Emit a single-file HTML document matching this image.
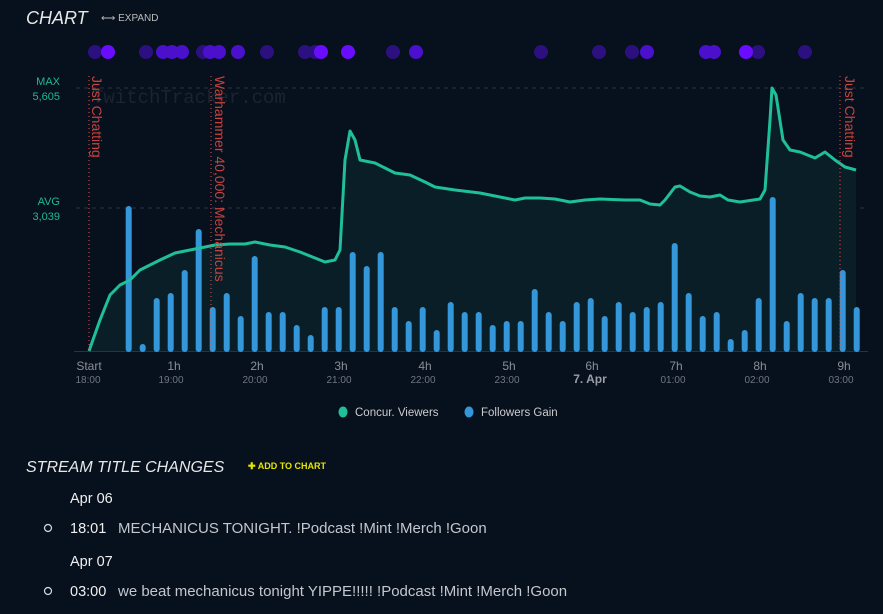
<!DOCTYPE html>
<html><head><meta charset="utf-8"><style>
html,body{margin:0;padding:0;background:#07101d;width:883px;height:614px;overflow:hidden;font-family:"Liberation Sans",sans-serif}
svg{position:absolute;left:0;top:0}
</style></head><body>
<svg width="883" height="614" viewBox="0 0 883 614">
<rect width="883" height="614" fill="#07101d"/>
<text x="26" y="24" font-size="18" font-style="italic" fill="#e8e8e8">CHART</text>
<text x="101" y="21" font-size="10" fill="#bbb">⟷ EXPAND</text>
<text x="92" y="103" font-family="Liberation Mono,monospace" font-size="19" fill="#1a2430">TwitchTracker.com</text>
<g fill="#2d1080">
<circle cx="95" cy="52" r="7"/><circle cx="146" cy="52" r="7"/><circle cx="203" cy="52" r="7"/><circle cx="267" cy="52" r="7"/><circle cx="305" cy="52" r="7"/><circle cx="315" cy="52" r="7"/><circle cx="393" cy="52" r="7"/><circle cx="541" cy="52" r="7"/><circle cx="599" cy="52" r="7"/><circle cx="632" cy="52" r="7"/><circle cx="758" cy="52" r="7"/><circle cx="805" cy="52" r="7"/>
</g>
<g fill="#4a10cc">
<circle cx="163" cy="52" r="7"/><circle cx="172" cy="52" r="7"/><circle cx="182" cy="52" r="7"/><circle cx="210" cy="52" r="7"/><circle cx="219" cy="52" r="7"/><circle cx="238" cy="52" r="7"/><circle cx="416" cy="52" r="7"/><circle cx="647" cy="52" r="7"/><circle cx="706" cy="52" r="7"/><circle cx="714" cy="52" r="7"/>
</g>
<g fill="#6a0cff">
<circle cx="108" cy="52" r="7"/><circle cx="321" cy="52" r="7"/><circle cx="348" cy="52" r="7"/><circle cx="746" cy="52" r="7"/>
</g>
<line x1="76" y1="88" x2="868" y2="88" stroke="#2a3440" stroke-dasharray="4,4"/>
<line x1="76" y1="208" x2="868" y2="208" stroke="#2a3440" stroke-dasharray="4,4"/>
<line x1="74" y1="351.5" x2="868" y2="351.5" stroke="#2a3440"/>
<text x="60" y="85" font-size="11" fill="#1fb89a" text-anchor="end">MAX</text>
<text x="60" y="100" font-size="11" fill="#1fb89a" text-anchor="end">5,605</text>
<text x="60" y="205" font-size="11" fill="#1fb89a" text-anchor="end">AVG</text>
<text x="60" y="220" font-size="11" fill="#1fb89a" text-anchor="end">3,039</text>
<path d="M89,351 L100,320 L110,295 L120,285 L130,280 L140,270 L150,265 L160,260 L175,253 L190,250 L200,248 L215,245 L230,244 L245,244 L255,242 L270,245 L285,247 L300,252 L315,258 L325,262 L335,260 L340,250 L345,160 L350,131 L355,140 L360,160 L375,163 L385,168 L395,173 L410,175 L425,182 L435,187 L455,190 L480,193 L500,197 L515,200 L525,198 L540,198 L555,199 L570,202 L585,200 L600,199 L625,200 L640,200 L650,204 L660,205 L665,200 L675,187 L680,186 L690,192 L700,196 L710,197 L720,195 L728,200 L740,202 L760,199 L765,190 L770,120 L772,88 L776,95 L783,140 L790,150 L800,152 L815,158 L825,152 L835,160 L845,167 L856,170 L856,351 Z" fill="#0a1e27"/>
<g fill="#3497da">
<rect x="125.7" y="206" width="6" height="146" rx="3"/><rect x="139.7" y="344" width="6" height="8" rx="3"/><rect x="153.7" y="298" width="6" height="54" rx="3"/><rect x="167.7" y="293" width="6" height="59" rx="3"/><rect x="181.7" y="270" width="6" height="82" rx="3"/><rect x="195.7" y="229" width="6" height="123" rx="3"/><rect x="209.7" y="307" width="6" height="45" rx="3"/><rect x="223.7" y="293" width="6" height="59" rx="3"/><rect x="237.7" y="316" width="6" height="36" rx="3"/><rect x="251.7" y="256" width="6" height="96" rx="3"/><rect x="265.7" y="312" width="6" height="40" rx="3"/><rect x="279.7" y="312" width="6" height="40" rx="3"/><rect x="293.7" y="325" width="6" height="27" rx="3"/><rect x="307.7" y="335" width="6" height="17" rx="3"/><rect x="321.7" y="307" width="6" height="45" rx="3"/><rect x="335.7" y="307" width="6" height="45" rx="3"/><rect x="349.7" y="252" width="6" height="100" rx="3"/><rect x="363.7" y="266" width="6" height="86" rx="3"/><rect x="377.7" y="252" width="6" height="100" rx="3"/><rect x="391.7" y="307" width="6" height="45" rx="3"/><rect x="405.7" y="321" width="6" height="31" rx="3"/><rect x="419.7" y="307" width="6" height="45" rx="3"/><rect x="433.7" y="330" width="6" height="22" rx="3"/><rect x="447.7" y="302" width="6" height="50" rx="3"/><rect x="461.7" y="312" width="6" height="40" rx="3"/><rect x="475.7" y="312" width="6" height="40" rx="3"/><rect x="489.7" y="325" width="6" height="27" rx="3"/><rect x="503.7" y="321" width="6" height="31" rx="3"/><rect x="517.7" y="321" width="6" height="31" rx="3"/><rect x="531.7" y="289" width="6" height="63" rx="3"/><rect x="545.7" y="312" width="6" height="40" rx="3"/><rect x="559.7" y="321" width="6" height="31" rx="3"/><rect x="573.7" y="302" width="6" height="50" rx="3"/><rect x="587.7" y="298" width="6" height="54" rx="3"/><rect x="601.7" y="316" width="6" height="36" rx="3"/><rect x="615.7" y="302" width="6" height="50" rx="3"/><rect x="629.7" y="312" width="6" height="40" rx="3"/><rect x="643.7" y="307" width="6" height="45" rx="3"/><rect x="657.7" y="302" width="6" height="50" rx="3"/><rect x="671.7" y="243" width="6" height="109" rx="3"/><rect x="685.7" y="293" width="6" height="59" rx="3"/><rect x="699.7" y="316" width="6" height="36" rx="3"/><rect x="713.7" y="312" width="6" height="40" rx="3"/><rect x="727.7" y="339" width="6" height="13" rx="3"/><rect x="741.7" y="330" width="6" height="22" rx="3"/><rect x="755.7" y="298" width="6" height="54" rx="3"/><rect x="769.7" y="197" width="6" height="155" rx="3"/><rect x="783.7" y="321" width="6" height="31" rx="3"/><rect x="797.7" y="293" width="6" height="59" rx="3"/><rect x="811.7" y="298" width="6" height="54" rx="3"/><rect x="825.7" y="298" width="6" height="54" rx="3"/><rect x="839.7" y="270" width="6" height="82" rx="3"/><rect x="853.7" y="307" width="6" height="45" rx="3"/>
</g>
<path d="M89,351 L100,320 L110,295 L120,285 L130,280 L140,270 L150,265 L160,260 L175,253 L190,250 L200,248 L215,245 L230,244 L245,244 L255,242 L270,245 L285,247 L300,252 L315,258 L325,262 L335,260 L340,250 L345,160 L350,131 L355,140 L360,160 L375,163 L385,168 L395,173 L410,175 L425,182 L435,187 L455,190 L480,193 L500,197 L515,200 L525,198 L540,198 L555,199 L570,202 L585,200 L600,199 L625,200 L640,200 L650,204 L660,205 L665,200 L675,187 L680,186 L690,192 L700,196 L710,197 L720,195 L728,200 L740,202 L760,199 L765,190 L770,120 L772,88 L776,95 L783,140 L790,150 L800,152 L815,158 L825,152 L835,160 L845,167 L856,170" fill="none" stroke="#1fbf9c" stroke-width="3" stroke-linejoin="round"/>
<g stroke="#d9534f" stroke-dasharray="1,3" stroke-width="1">
<line x1="89" y1="76" x2="89" y2="351"/><line x1="211" y1="76" x2="211" y2="351"/><line x1="840" y1="76" x2="840" y2="351"/>
</g>
<g font-size="14" fill="#c9423c">
<text transform="translate(92,76) rotate(90)">Just Chatting</text>
<text transform="translate(215,76) rotate(90)">Warhammer 40,000: Mechanicus</text>
<text transform="translate(845,76) rotate(90)">Just Chatting</text>
</g>
<g font-size="12" fill="#8a8f96" text-anchor="middle">
<text x="89" y="370">Start</text><text x="174" y="370">1h</text><text x="257" y="370">2h</text><text x="341" y="370">3h</text><text x="425" y="370">4h</text><text x="509" y="370">5h</text><text x="592" y="370">6h</text><text x="676" y="370">7h</text><text x="760" y="370">8h</text><text x="844" y="370">9h</text>
</g>
<g font-size="10" fill="#707680" text-anchor="middle">
<text x="88" y="383">18:00</text><text x="171" y="383">19:00</text><text x="255" y="383">20:00</text><text x="339" y="383">21:00</text><text x="423" y="383">22:00</text><text x="507" y="383">23:00</text><text x="590" y="383" font-size="12" fill="#9a9fa6" font-weight="bold">7. Apr</text><text x="673" y="383">01:00</text><text x="757" y="383">02:00</text><text x="841" y="383">03:00</text>
</g>
<ellipse cx="343" cy="412" rx="4.5" ry="5.5" fill="#1fbf9c"/>
<text x="355" y="416" font-size="11.5" fill="#ccc">Concur. Viewers</text>
<ellipse cx="469" cy="412" rx="4.5" ry="5.5" fill="#3497da"/>
<text x="481" y="416" font-size="11.5" fill="#ccc">Followers Gain</text>
<text x="26" y="472" font-size="16" font-style="italic" fill="#e8e8e8">STREAM TITLE CHANGES</text>
<text x="248" y="469" font-size="9" font-weight="bold" fill="#e6e600">✚ ADD TO CHART</text>
<text x="70" y="503" font-size="14.5" fill="#f0f0f0">Apr 06</text>
<circle cx="48" cy="528" r="3.5" fill="none" stroke="#ddd" stroke-width="1.2"/>
<text x="70" y="533" font-size="14.5" fill="#f0f0f0">18:01</text>
<text x="118" y="533" font-size="15" fill="#c4c7cc">MECHANICUS TONIGHT. !Podcast !Mint !Merch !Goon</text>
<text x="70" y="566" font-size="14.5" fill="#f0f0f0">Apr 07</text>
<circle cx="48" cy="591" r="3.5" fill="none" stroke="#ddd" stroke-width="1.2"/>
<text x="70" y="596" font-size="14.5" fill="#f0f0f0">03:00</text>
<text x="118" y="596" font-size="15" fill="#c4c7cc">we beat mechanicus tonight YIPPE!!!!! !Podcast !Mint !Merch !Goon</text>
</svg>
</body></html>
